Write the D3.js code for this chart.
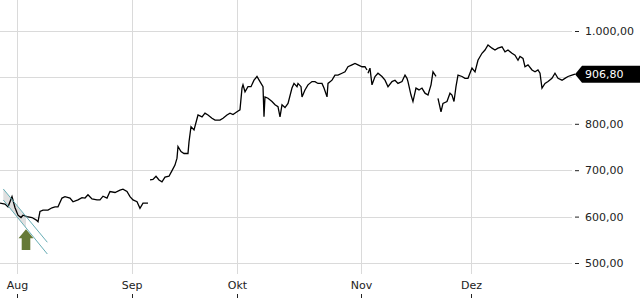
<!DOCTYPE html>
<html>
<head>
<meta charset="utf-8">
<script src="https://cdn.jsdelivr.net/npm/d3@7"></script>
<style>
  body { margin: 0; background: #fff; }
  svg { display: block; font-family: 'DejaVu Sans', sans-serif; }
</style>
</head>
<body>
<div id="chart"></div>
<script>
// trading-day position (0 = 1 Aug) and price, null = break in the line
const sessionDay = [
  -3.27, -2.31, -1.73, -0.96, -0.38, 0.19, 0.77, 1.15, 1.92, 2.88, 3.65, 4.04, 4.42, 5.0, 5.96,
  6.73, 7.31, 7.88, 8.65, 9.23, 10.19, 10.77, 11.73, 12.5, 13.08, 13.65, 14.42, 15.38, 15.96,
  16.54, 17.31, 17.88, 18.85, 19.81, 20.38, 21.15, 21.73, 22.31, 23.08, 23.65, 24.23, 25.19,
  25.4,
  25.58, 26.15, 26.73, 27.31, 27.88, 28.46, 29.23, 29.81, 30.38, 30.77, 30.96, 31.54, 32.12,
  32.88, 33.08, 33.46, 34.04, 34.81, 35.58, 36.15, 36.73, 37.5, 38.08, 39.04, 39.62, 40.38,
  40.96, 41.54, 42.31, 42.88, 43.27, 43.46, 43.85, 44.42, 45.0, 45.58, 46.15, 46.73, 47.31,
  47.5, 47.69, 48.27, 49.04, 49.62, 50.19, 50.58, 50.96, 51.54, 52.12, 52.88, 53.27, 53.85,
  54.04, 54.62, 54.81, 55.38, 55.96, 56.73, 57.31, 57.88, 58.65, 59.04, 59.62, 59.81, 60.58,
  61.15, 61.73, 62.5, 63.08, 63.65, 64.42, 65.0, 65.58, 66.35, 66.92, 67.31,
  67.4,
  67.5, 67.88, 68.27, 68.85, 69.42, 70.19, 70.77, 71.35, 72.12, 72.69, 73.27, 74.04, 74.62,
  75.0, 75.19, 75.77, 76.15, 76.73, 77.31, 77.88, 78.46, 79.04, 79.62, 80.0, 80.58,
  80.8,
  80.96, 81.54, 81.92, 82.69, 83.27, 83.65, 84.04, 84.42, 84.81, 85.58, 86.15, 86.73, 87.5,
  88.08, 88.65, 89.42, 90.0, 90.58, 91.35, 91.92, 92.5, 93.27, 93.85, 94.42, 95.19, 95.77,
  96.35, 96.73, 97.31, 97.69, 98.27, 99.04, 99.62, 100.19, 100.58, 100.96, 101.54, 102.12,
  102.88, 103.46, 104.04, 104.81, 105.38, 105.96, 106.73, 107.31
]
const price = [
  629, 627, 621, 643, 619, 603, 598, 603, 600, 598, 593, 589, 611, 614, 614,
  619, 621, 621, 640, 643, 640, 632, 636, 641, 640, 647, 638, 636, 636,
  644, 640, 654, 652, 657, 659, 654, 643, 636, 632, 618, 629, 629,
  null,
  679, 680, 687, 679, 675, 685, 687, 699, 711, 726, 751, 740, 736,
  736, 761, 794, 787, 819, 815, 823, 819, 812, 808, 808, 812, 819,
  823, 820, 826, 830, 877, 884, 869, 880, 880, 894, 902, 891, 880,
  815, 858, 855, 848, 841, 837, 815, 841, 835, 844, 877, 887, 880,
  887, 880, 858, 873, 884, 891, 891, 887, 887, 877, 858, 887, 894,
  905, 905, 909, 912, 923, 927, 930, 927, 923, 923, 916,
  null,
  909, 920, 884, 902, 909, 902, 894, 880, 891, 894, 887, 891, 905,
  898, 891, 862, 848, 877, 873, 877, 866, 862, 884, 912, 902,
  null,
  855, 826, 844, 848, 866, 862, 848, 880, 905, 902, 898, 898, 920,
  912, 937, 952, 959, 970, 963, 959, 963, 966, 955, 959, 952, 948,
  937, 945, 941, 923, 927, 916, 912, 916, 909, 877, 887, 891,
  898, 909, 898, 894, 898, 902, 905, 906.8
]

const monthLabels = ['Aug', 'Sep', 'Okt', 'Nov', 'Dez']
const monthDay = [0, 22.02, 42.31, 66.15, 87.31]
const gridTicks = [500, 600, 700, 800, 900, 1000]
// 900 is hidden under the last-price marker
const labelTicks = [500, 600, 700, 800, 1000]
const lastPrice = 906.8

// trend channel (day, price) and buy arrow
const channelUpper = [[-2.63, 659.5], [5.83, 544.7]]
const channelLower = [[-2.63, 635.8], [5.83, 519.4]]
const channelShadeEnd = 1.73
const buyArrow = { day: 1.73, top: 572.7, bottom: 528 }

const width = 640
const height = 300
const plotRight = 575

const svg = d3.select('#chart')
  .append('svg')
  .attr('width', width)
  .attr('height', height)

const x = d3.scaleLinear().domain([-3.27, 107.31]).range([0, plotRight])
const y = d3.scaleLinear().domain([500, 1000]).range([263, 31])

const de = d3.formatLocale({ decimal: ',', thousands: '.', grouping: [3], currency: ['', ''] })
const fmt = de.format(',.2f')

// grid
svg.append('g')
  .selectAll('line')
  .data(gridTicks)
  .enter()
  .append('line')
  .attr('x1', 0)
  .attr('x2', 572)
  .attr('y1', d => Math.round(y(d)) + 0.5)
  .attr('y2', d => Math.round(y(d)) + 0.5)
  .attr('stroke', '#dadada')

svg.append('g')
  .selectAll('line')
  .data(monthDay)
  .enter()
  .append('line')
  .attr('x1', d => Math.round(x(d)) + 0.5)
  .attr('x2', d => Math.round(x(d)) + 0.5)
  .attr('y1', 0)
  .attr('y2', 274)
  .attr('stroke', '#dadada')

// right axis
const yAxis = d3.axisRight(y)
  .tickValues(labelTicks)
  .tickFormat(fmt)
  .tickSize(4)
  .tickPadding(6)

const yg = svg.append('g')
  .attr('transform', 'translate(575,0)')
  .call(yAxis)
yg.select('.domain').remove()
yg.selectAll('line').attr('stroke', '#222')
yg.selectAll('text')
  .attr('fill', '#222')
  .style('font-size', '11px')
  .style('font-family', 'DejaVu Sans, sans-serif')

// bottom axis
const xAxis = d3.axisBottom(x)
  .tickValues(monthDay)
  .tickFormat((d, i) => monthLabels[i])
  .tickSize(0)
  .tickPadding(0)

const xg = svg.append('g')
  .attr('transform', 'translate(0,281)')
  .call(xAxis)
xg.select('.domain').remove()
xg.selectAll('text')
  .attr('fill', '#222')
  .style('font-size', '11px')
  .style('font-family', 'DejaVu Sans, sans-serif')

svg.append('g')
  .selectAll('line')
  .data(monthDay)
  .enter()
  .append('line')
  .attr('x1', d => Math.round(x(d)) + 0.5)
  .attr('x2', d => Math.round(x(d)) + 0.5)
  .attr('y1', 294)
  .attr('y2', 298)
  .attr('stroke', '#222')

// channel shading
const slope = (seg, d) => seg[0][1] + (seg[1][1] - seg[0][1]) * (d - seg[0][0]) / (seg[1][0] - seg[0][0])
const shadePts = [
  [channelUpper[0][0], channelUpper[0][1]],
  [channelShadeEnd, slope(channelUpper, channelShadeEnd)],
  [channelShadeEnd, slope(channelLower, channelShadeEnd)],
  [channelLower[0][0], channelLower[0][1]]
]
svg.append('path')
  .attr('d', d3.line().x(d => x(d[0])).y(d => y(d[1]))(shadePts) + 'Z')
  .attr('fill', '#d8d8d8')
  .attr('opacity', 0.8)

// price line
const points = sessionDay.map((d, i) => ({ day: d, price: price[i] }))
const line = d3.line()
  .defined(d => d.price !== null)
  .x(d => x(d.day))
  .y(d => y(d.price))

svg.append('path')
  .datum(points)
  .attr('d', line)
  .attr('fill', 'none')
  .attr('stroke', '#000')
  .attr('stroke-width', 1.3)
  .attr('stroke-linejoin', 'miter')

// channel lines
;[channelUpper, channelLower].forEach(seg => {
  svg.append('line')
    .attr('x1', x(seg[0][0]))
    .attr('y1', y(seg[0][1]))
    .attr('x2', x(seg[1][0]))
    .attr('y2', y(seg[1][1]))
    .attr('stroke', '#67adb5')
    .attr('stroke-width', 1)
})

// buy arrow
const ax = x(buyArrow.day)
const aTop = y(buyArrow.top)
const aBot = y(buyArrow.bottom)
svg.append('path')
  .attr('d', [
    'M', ax, aTop,
    'L', ax + 7.5, aTop + 9,
    'L', ax + 4.3, aTop + 9,
    'L', ax + 4.3, aBot,
    'L', ax - 4.3, aBot,
    'L', ax - 4.3, aTop + 9,
    'L', ax - 7.5, aTop + 9,
    'Z'
  ].join(' '))
  .attr('fill', '#667a36')

// last price marker
const ly = y(lastPrice)
svg.append('path')
  .attr('d', `M${plotRight},${ly} L${plotRight + 7},${ly - 8.5} L${width},${ly - 8.5} L${width},${ly + 8.5} L${plotRight + 7},${ly + 8.5} Z`)
  .attr('fill', '#000')

svg.append('text')
  .attr('x', 585)
  .attr('y', ly)
  .attr('dy', '0.35em')
  .attr('fill', '#fff')
  .style('font-size', '11px')
  .text(fmt(lastPrice))
</script>
</body>
</html>
